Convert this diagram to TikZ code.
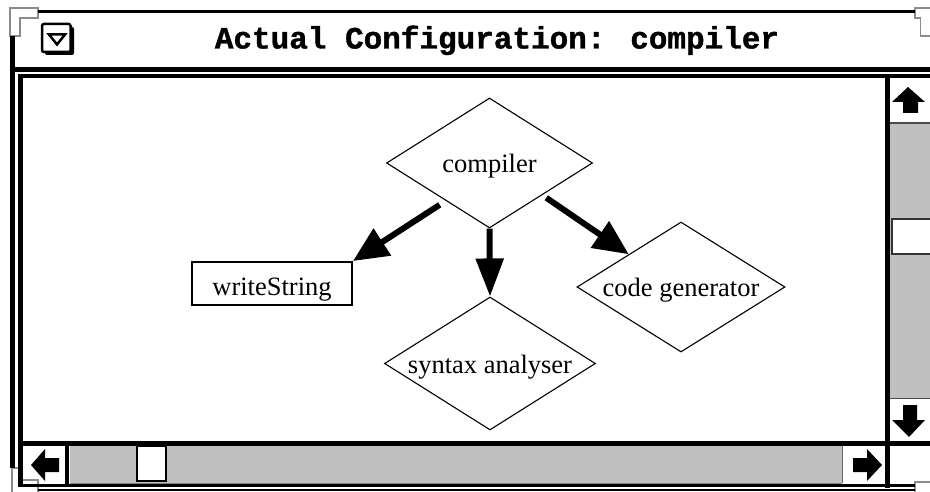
\documentclass[tikz,border=0pt]{standalone}
\usepackage{fontspec}
\setmainfont{Liberation Serif}
\newfontfamily\titlefont[BoldFeatures={FakeBold=1.2}]{Liberation Mono}
\usetikzlibrary{shapes.geometric,arrows.meta}
\definecolor{trough}{HTML}{C0C0C0}
\definecolor{bevel}{HTML}{8C8C8C}
\begin{document}
\begin{tikzpicture}[x=1pt,y=-1pt,
  dia/.style={diamond, draw, line width=1.1pt, inner sep=0pt, aspect=1.6,
    text height=19pt, text depth=0pt,
    font=\fontsize{26.5}{26.5}\selectfont},
  boxnode/.style={draw, line width=2pt, inner sep=0pt,
    text height=24pt, text depth=0pt,
    font=\fontsize{26.5}{26.5}\selectfont},
  bigarrow/.style={line width=6pt, -{Triangle[length=35pt,width=31pt]}},
  downarrow/.style={line width=6pt, -{Triangle[length=38pt,width=27pt]}},
  frameline/.style={line width=#1, black},
  bevelpiece/.style={fill=white, draw=bevel, line width=1.5pt},
  scrollarrow/.style={fill=black}]
\useasboundingbox (0,0) rectangle (930,492);
\fill[white] (0,0) rectangle (930,492);

% corner pieces
\filldraw[bevelpiece] (10,8)--(38,8)--(38,18)--(20,18)--(20,36)--(10,36)--cycle;
\filldraw[bevelpiece] (915,8)--(932,8)--(932,36)--(920.5,36)--(920.5,18)--(915,18)--cycle;
\filldraw[bevelpiece] (12,468)--(22,468)--(22,480)--(38,480)--(38,494)--(12,494)--cycle;
\draw[bevel, line width=1.5pt] (915,494)--(915,482)--(932,482);

% scroll troughs
\fill[trough] (890,124) rectangle (932,398);
\fill[trough] (70,445.5) rectangle (842,482.5);
\draw[black!70, line width=1.5pt] (890,123) -- (932,123);
\draw[black!70, line width=1.5pt] (890,398.5) -- (932,398.5);
\draw[black!60, line width=1pt] (842,445) -- (842,483);
\draw[black!50, line width=1pt] (70,483) -- (842,483);

% thumbs
\filldraw[fill=white, draw=black!80, line width=2pt] (892,219.5) rectangle (934,254);
\filldraw[fill=white, draw=black, line width=2pt] (137,446) rectangle (166,481);

% scroll arrows
\fill[scrollarrow] (908,87) -- (925,102) -- (918,102) -- (918,113) -- (903,113) -- (903,102) -- (892,102) -- cycle;
\fill[scrollarrow] (903,405) -- (917,405) -- (917,420) -- (925,420) -- (909,437) -- (892,420) -- (903,420) -- cycle;
\fill[scrollarrow] (31,465) -- (45,449) -- (45,458) -- (59,458) -- (59,472) -- (45,472) -- (45,481) -- cycle;
\fill[scrollarrow] (882,465) -- (867,449) -- (867,458) -- (853,458) -- (853,472) -- (867,472) -- (867,481) -- cycle;

% frame lines
\draw[frameline=3.5pt] (38,11.5) -- (915,11.5);
\draw[frameline=5pt] (12.5,36) -- (12.5,468);
\draw[frameline=5pt] (10,69.5) -- (932,69.5);
\draw[frameline=4pt] (18,76.5) -- (932,76.5);
\draw[frameline=5pt] (20.5,74.5) -- (20.5,487);
\draw[frameline=5pt] (887.5,74.5) -- (887.5,487.5);
\draw[frameline=5pt] (18,443) -- (932,443);
\draw[frameline=4pt] (67,445) -- (67,485);
\draw[frameline=2.5pt] (18,485.5) -- (915,485.5);
\draw[frameline=2pt] (38,490) -- (915,490);

% menu icon
\fill[black, rounded corners=2pt] (45,27) rectangle (74,55);
\filldraw[fill=white, draw=black, line width=2.5pt, rounded corners=2pt] (42,24) rectangle (70.5,52);
\draw[line width=2.5pt, line join=miter] (49,34.5) -- (65,34.5) -- (57,44.5) -- cycle;

% title
\node[font=\titlefont\bfseries\fontsize{31}{31}\selectfont, anchor=base, inner sep=0pt] (title) at (497,48.5) {Actual Configuration: compiler};

% diagram
\node[dia, minimum width=206pt, minimum height=130pt] (compiler) at (489.5,163) {compiler};
\node[dia, minimum width=211pt, minimum height=133pt] (syntax) at (490,363.5) {syntax analyser};
\node[dia, minimum width=208pt, minimum height=130pt] (codegen) at (681,287) {code generator};
\node[boxnode, minimum width=160pt, minimum height=43pt] (write) at (272,283.5) {writeString};

\draw[bigarrow] ([shift={(2pt,-9pt)}]compiler.south west) -- (write.north east);
\draw[downarrow] (compiler.south) -- (syntax.north);
\draw[bigarrow] ([shift={(5pt,-2pt)}]compiler.south east) -- (codegen.north west);
\end{tikzpicture}
\end{document}
